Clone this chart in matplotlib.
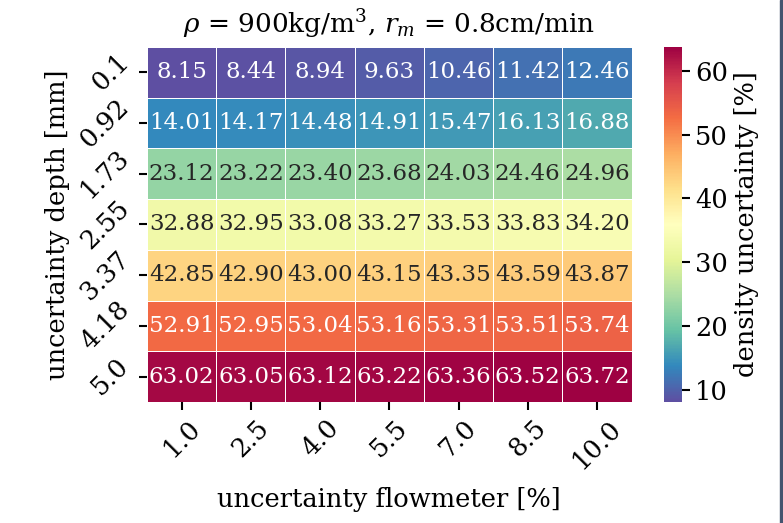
import numpy as np
import matplotlib
matplotlib.use("Agg")
import matplotlib.pyplot as plt
import seaborn as sns
from matplotlib.patches import Rectangle

sns.set_style("ticks")
plt.rcParams['font.family'] = ['DejaVu Serif']
plt.rcParams['mathtext.fontset'] = 'dejavuserif'

# flowmeter uncertainty [%] (columns), depth uncertainty [mm] (rows)
flow_unc = ["1.0", "2.5", "4.0", "5.5", "7.0", "8.5", "10.0"]
depth_unc = ["0.1", "0.92", "1.73", "2.55", "3.37", "4.18", "5.0"]

row_01 = [8.15, 8.44, 8.94, 9.63, 10.46, 11.42, 12.46]
row_092 = [14.01, 14.17, 14.48, 14.91, 15.47, 16.13, 16.88]
row_173 = [23.12, 23.22, 23.40, 23.68, 24.03, 24.46, 24.96]
row_255 = [32.88, 32.95, 33.08, 33.27, 33.53, 33.83, 34.20]
row_337 = [42.85, 42.90, 43.00, 43.15, 43.35, 43.59, 43.87]
row_418 = [52.91, 52.95, 53.04, 53.16, 53.31, 53.51, 53.74]
row_50 = [63.02, 63.05, 63.12, 63.22, 63.36, 63.52, 63.72]

density_unc = np.array([row_01, row_092, row_173, row_255, row_337, row_418, row_50])

fs = 18.5

fig = plt.figure(figsize=(7.83, 5.23), dpi=100)
ax = fig.add_axes([0.1877, 0.2314, 0.619, 0.679])
cax = fig.add_axes([0.848, 0.2314, 0.023, 0.679])

sns.heatmap(density_unc, ax=ax, cbar_ax=cax, cmap="Spectral_r", annot=True, fmt=".2f",
            annot_kws={"fontsize": 16.5}, linewidths=0.7, linecolor="white",
            xticklabels=flow_unc, yticklabels=depth_unc,
            cbar_kws={"label": "density uncertainty [%]"})

ax.set_xticklabels(flow_unc, rotation=45, fontsize=fs, color="black")
ax.set_yticklabels(depth_unc, rotation=45, fontsize=fs, va="center", color="black")
ax.set_xlabel("uncertainty flowmeter [%]", fontsize=fs, labelpad=10, color="black")
ax.set_ylabel("uncertainty depth [mm]", fontsize=fs, color="black")
ax.set_title(r"$\rho$ = 900kg/m$^3$, $r_m$ = 0.8cm/min", fontsize=19, pad=10, color="black")
ax.tick_params(axis="both", length=6, width=1.5, color="black")

cax.tick_params(labelsize=fs, length=6, width=1.5, color="black", labelcolor="black")
cax.yaxis.label.set_size(fs)
cax.yaxis.label.set_color("black")
cax.set_yticks([10, 20, 30, 40, 50, 60])

# dark strip at the right edge of the screenshot
fig.patches.append(Rectangle((780 / 783, 0), 3 / 783, 1, transform=fig.transFigure,
                             color="#44546f", zorder=10))

fig.savefig("out.png", dpi=100)
